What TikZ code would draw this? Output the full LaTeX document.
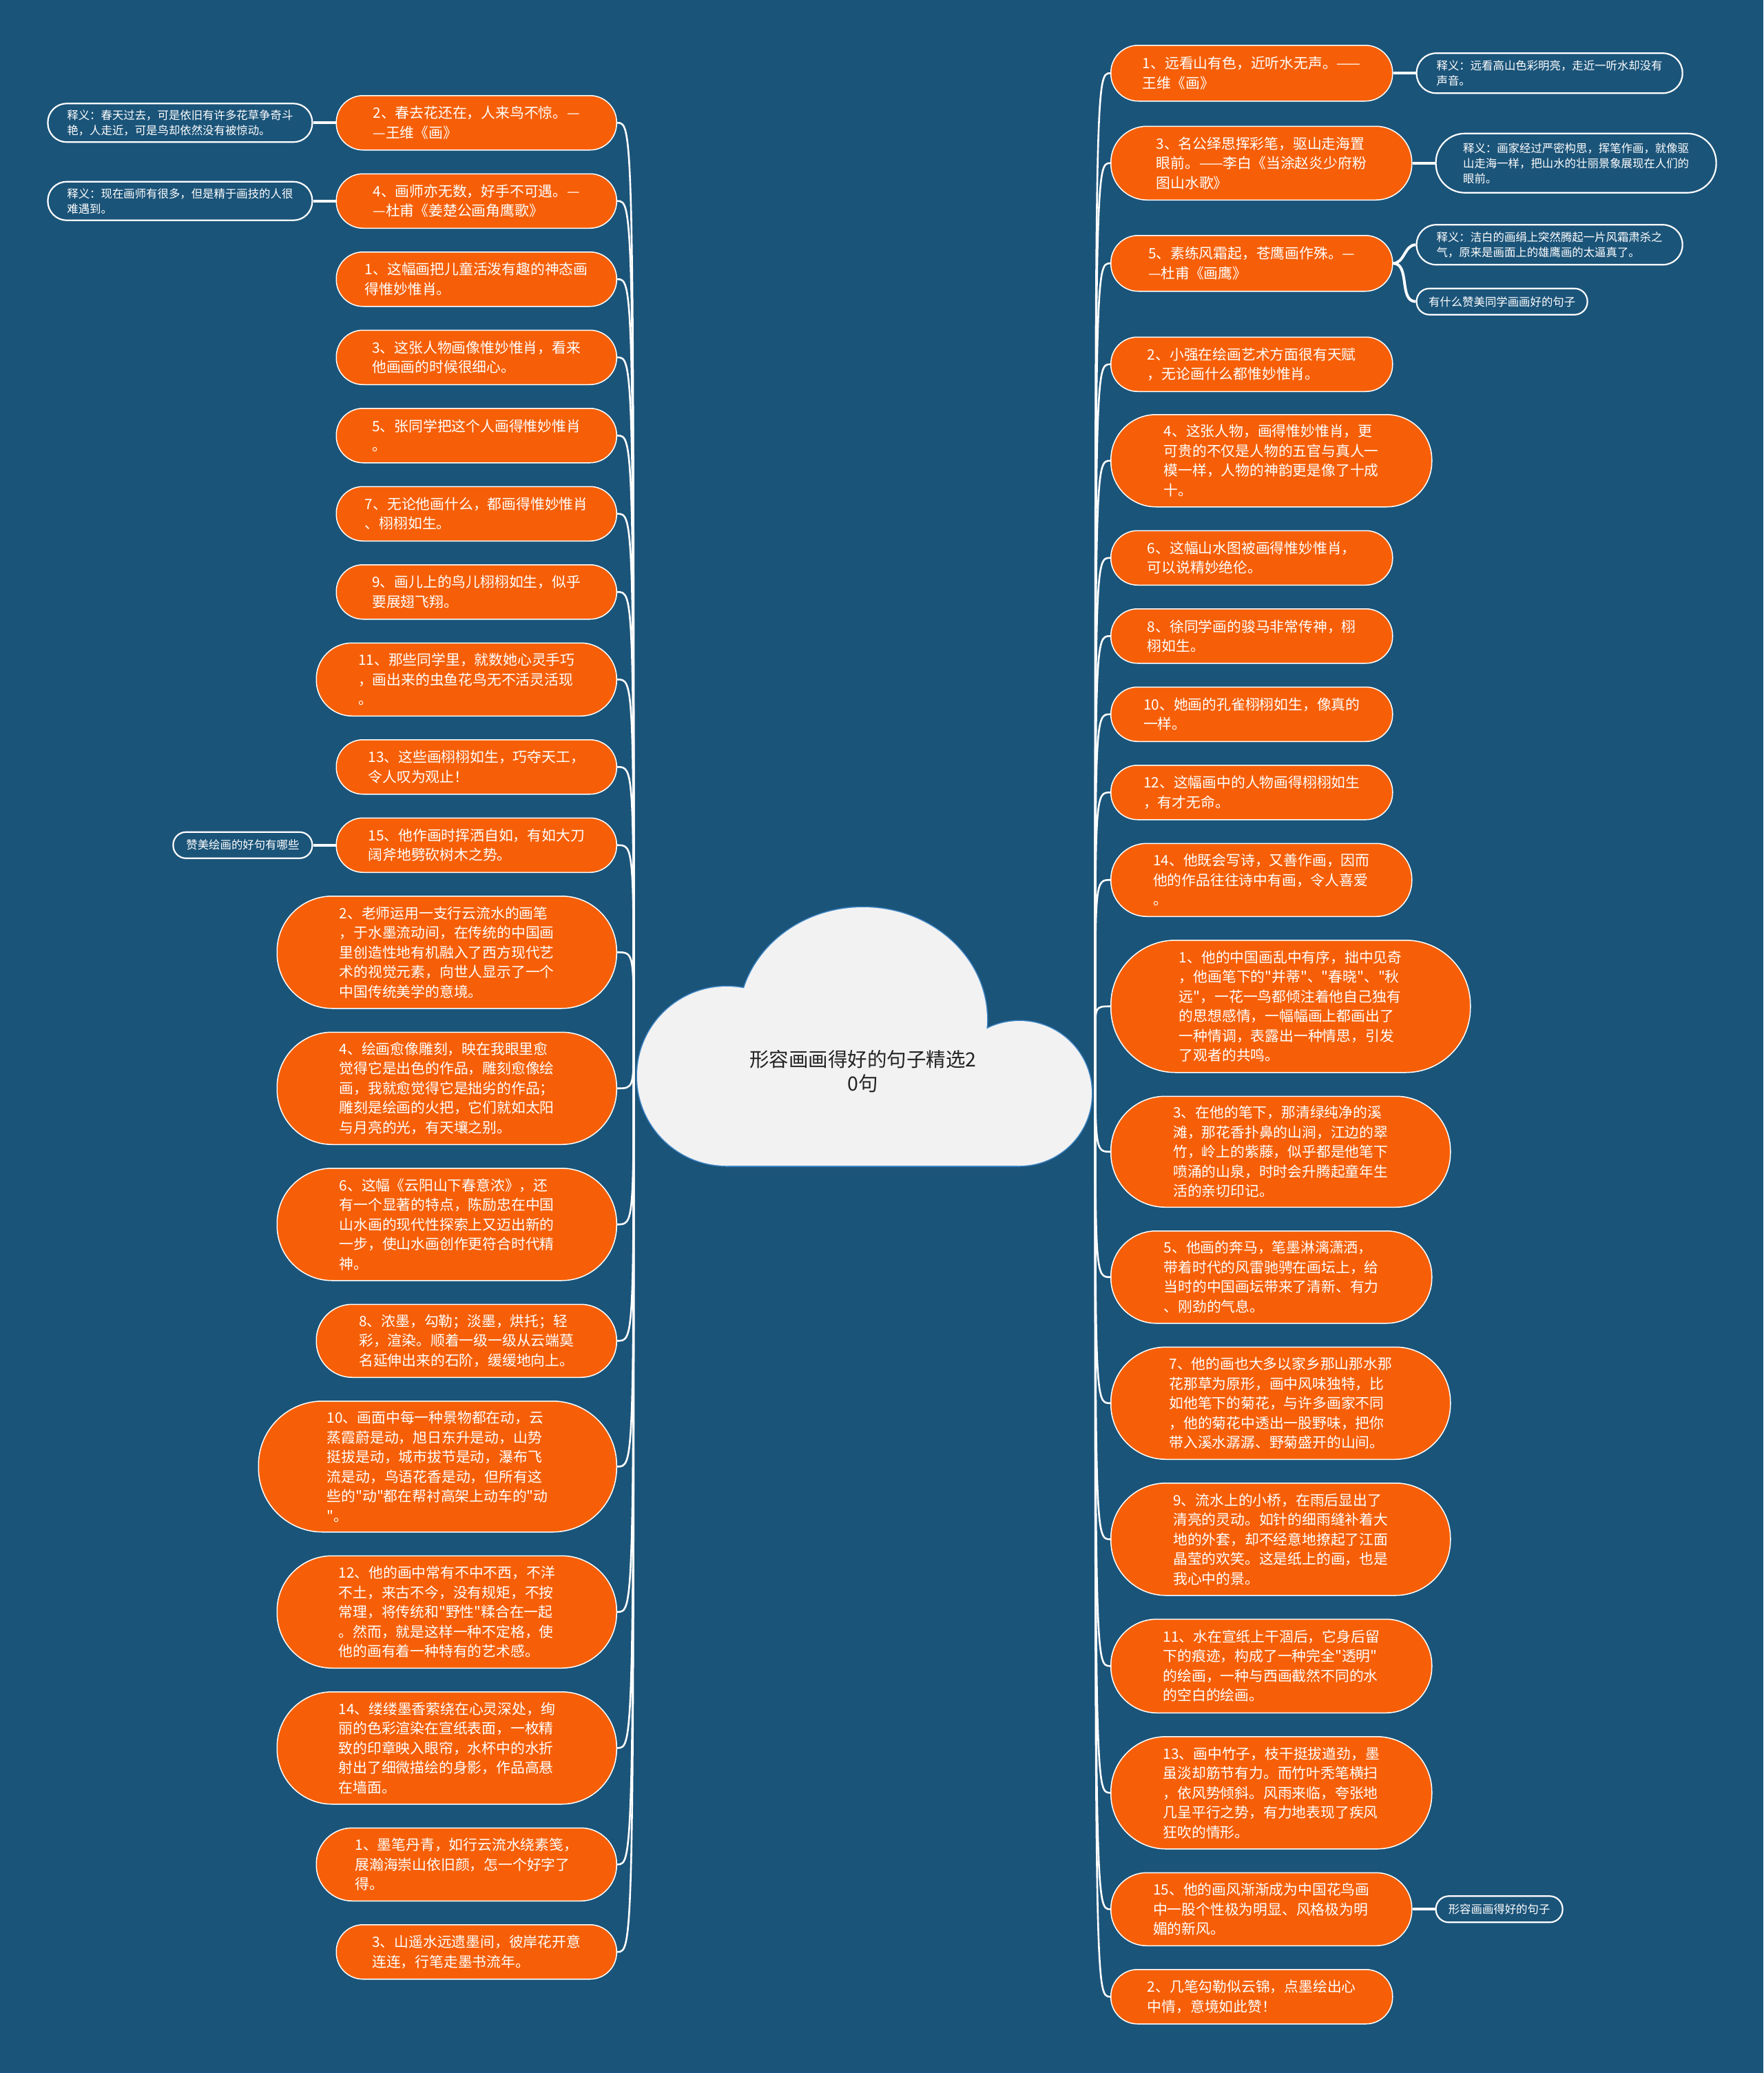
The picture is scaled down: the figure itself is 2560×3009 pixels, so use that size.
\documentclass[tikz,border=0pt]{standalone}
\usepackage{fontspec}
\newfontfamily\zhfont{Noto Sans CJK SC}
\usetikzlibrary{positioning}
\definecolor{cBg}{HTML}{1B5479}
\definecolor{cOrange}{HTML}{F65F07}
\definecolor{cCloud}{HTML}{F2F2F2}
\definecolor{cCloudEdge}{HTML}{3D85C6}
\definecolor{cInk}{HTML}{222222}
\newcommand{\pillfont}{\zhfont\fontsize{20.8}{28.5}\selectfont}
\newcommand{\notefont}{\zhfont\fontsize{16.4}{22}\selectfont}
\newcommand{\cloudfont}{\zhfont\fontsize{28.5}{35}\selectfont}

\begin{document}
\begin{tikzpicture}[
    x=1pt, y=-1pt,
    pill/.style 2 args={draw=white, line width=1.5pt, fill=cOrange,
                        text=white, font=\pillfont, align=left, inner sep=0pt,
                        minimum width=#1, minimum height=#2,
                        rounded corners=0.49*#2},
    note/.style 2 args={draw=white, line width=2.2pt, fill=cBg,
                        text=white, font=\notefont, align=left, inner sep=0pt,
                        minimum width=#1, minimum height=#2,
                        rounded corners=0.49*#2},
    rootlbl/.style={font=\cloudfont, text=cInk, align=center},
    cloudedge/.style={draw=cCloudEdge, line width=3pt, fill=cCloud},
    cloudfill/.style={fill=cCloud},
    branch/.style={draw=white, line width=2.6pt},
    link/.style={draw=white, line width=4pt},
  ]
  % ── BACKGROUND ──
  \fill[cBg] (0,0) rectangle (2560,3009);

  % ── CLOUD ──
  \foreach \op in {cloudedge, cloudfill} {
    \path[\op] (1055,1562) circle[radius=130];
    \path[\op] (1253,1480) ellipse[x radius=180, y radius=163];
    \path[\op] (1480,1587) circle[radius=105];
    \path[\op] (1055,1560) rectangle (1480,1692);
  }
  \node[rootlbl] (root) at (1253,1555) {形容画画得好的句子精选2\\0句};
  \coordinate (rootL) at (920,1503);
  \coordinate (rootR) at (1590,1503);

  % ── LEFT COLUMN ──
  \node[pill={407pt}{79pt}, anchor=north east] (L1) at (896,138)
    {2、春去花还在，人来鸟不惊。—\\—王维《画》};
  \node[pill={407pt}{79pt}, below=33pt of L1.south east, anchor=north east] (L2)
    {4、画师亦无数，好手不可遇。—\\—杜甫《姜楚公画角鹰歌》};
  \node[pill={407pt}{79pt}, below=33pt of L2.south east, anchor=north east] (L3)
    {1、这幅画把儿童活泼有趣的神态画\\得惟妙惟肖。};
  \node[pill={407pt}{79pt}, below=33pt of L3.south east, anchor=north east] (L4)
    {3、这张人物画像惟妙惟肖，看来\\他画画的时候很细心。};
  \node[pill={407pt}{79pt}, below=33pt of L4.south east, anchor=north east] (L5)
    {5、张同学把这个人画得惟妙惟肖\\。};
  \node[pill={407pt}{79pt}, below=33pt of L5.south east, anchor=north east] (L6)
    {7、无论他画什么，都画得惟妙惟肖\\、栩栩如生。};
  \node[pill={407pt}{79pt}, below=33pt of L6.south east, anchor=north east] (L7)
    {9、画儿上的鸟儿栩栩如生，似乎\\要展翅飞翔。};
  \node[pill={436pt}{106pt}, below=33pt of L7.south east, anchor=north east] (L8)
    {11、那些同学里，就数她心灵手巧\\，画出来的虫鱼花鸟无不活灵活现\\。};
  \node[pill={407pt}{79pt}, below=33pt of L8.south east, anchor=north east] (L9)
    {13、这些画栩栩如生，巧夺天工，\\令人叹为观止！};
  \node[pill={407pt}{79pt}, below=33pt of L9.south east, anchor=north east] (L10)
    {15、他作画时挥洒自如，有如大刀\\阔斧地劈砍树木之势。};
  \node[pill={493pt}{163pt}, below=33pt of L10.south east, anchor=north east] (L11)
    {2、老师运用一支行云流水的画笔\\，于水墨流动间，在传统的中国画\\里创造性地有机融入了西方现代艺\\术的视觉元素，向世人显示了一个\\中国传统美学的意境。};
  \node[pill={493pt}{163pt}, below=33pt of L11.south east, anchor=north east] (L12)
    {4、绘画愈像雕刻，映在我眼里愈\\觉得它是出色的作品，雕刻愈像绘\\画，我就愈觉得它是拙劣的作品；\\雕刻是绘画的火把，它们就如太阳\\与月亮的光，有天壤之别。};
  \node[pill={493pt}{163pt}, below=33pt of L12.south east, anchor=north east] (L13)
    {6、这幅《云阳山下春意浓》，还\\有一个显著的特点，陈励忠在中国\\山水画的现代性探索上又迈出新的\\一步，使山水画创作更符合时代精\\神。};
  \node[pill={436pt}{106pt}, below=33pt of L13.south east, anchor=north east] (L14)
    {8、浓墨，勾勒；淡墨，烘托；轻\\彩，渲染。顺着一级一级从云端莫\\名延伸出来的石阶，缓缓地向上。};
  \node[pill={520pt}{190pt}, below=33pt of L14.south east, anchor=north east] (L15)
    {10、画面中每一种景物都在动，云\\蒸霞蔚是动，旭日东升是动，山势\\挺拔是动，城市拔节是动，瀑布飞\\流是动，鸟语花香是动，但所有这\\些的"动"都在帮衬高架上动车的"动\\"。};
  \node[pill={493pt}{163pt}, below=33pt of L15.south east, anchor=north east] (L16)
    {12、他的画中常有不中不西，不洋\\不土，来古不今，没有规矩，不按\\常理，将传统和"野性"糅合在一起\\。然而，就是这样一种不定格，使\\他的画有着一种特有的艺术感。};
  \node[pill={493pt}{163pt}, below=33pt of L16.south east, anchor=north east] (L17)
    {14、缕缕墨香萦绕在心灵深处，绚\\丽的色彩渲染在宣纸表面，一枚精\\致的印章映入眼帘，水杯中的水折\\射出了细微描绘的身影，作品高悬\\在墙面。};
  \node[pill={436pt}{106pt}, below=33pt of L17.south east, anchor=north east] (L18)
    {1、墨笔丹青，如行云流水绕素笺，\\展瀚海崇山依旧颜，怎一个好字了\\得。};
  \node[pill={407pt}{79pt}, below=33pt of L18.south east, anchor=north east] (L19)
    {3、山遥水远遗墨间，彼岸花开意\\连连，行笔走墨书流年。};

  % ── LEFT NOTES ──
  \node[note={384pt}{56pt}, left=33pt of L1] (NL1)
    {释义：春天过去，可是依旧有许多花草争奇斗\\艳，人走近，可是鸟却依然没有被惊动。};
  \node[note={384pt}{56pt}, left=33pt of L2] (NL2)
    {释义：现在画师有很多，但是精于画技的人很\\难遇到。};
  \node[note={202pt}{38pt}, left=33pt of L10] (NL3) {赞美绘画的好句有哪些};

  % ── RIGHT COLUMN ──
  \node[pill={409pt}{81pt}, anchor=north west] (R1) at (1612,65)
    {1、远看山有色，近听水无声。——\\王维《画》};
  \node[pill={437pt}{107pt}, below=35pt of R1.south west, anchor=north west] (R2)
    {3、名公绎思挥彩笔，驱山走海置\\眼前。——李白《当涂赵炎少府粉\\图山水歌》};
  \node[pill={409pt}{81pt}, below=50pt of R2.south west, anchor=north west] (R3)
    {5、素练风霜起，苍鹰画作殊。—\\—杜甫《画鹰》};
  \node[pill={409pt}{79pt}, below=65pt of R3.south west, anchor=north west] (R4)
    {2、小强在绘画艺术方面很有天赋\\，无论画什么都惟妙惟肖。};
  \node[pill={466pt}{134pt}, below=32pt of R4.south west, anchor=north west] (R5)
    {4、这张人物，画得惟妙惟肖，更\\可贵的不仅是人物的五官与真人一\\模一样，人物的神韵更是像了十成\\十。};
  \node[pill={409pt}{79pt}, below=33pt of R5.south west, anchor=north west] (R6)
    {6、这幅山水图被画得惟妙惟肖，\\可以说精妙绝伦。};
  \node[pill={409pt}{79pt}, below=33pt of R6.south west, anchor=north west] (R7)
    {8、徐同学画的骏马非常传神，栩\\栩如生。};
  \node[pill={409pt}{79pt}, below=33pt of R7.south west, anchor=north west] (R8)
    {10、她画的孔雀栩栩如生，像真的\\一样。};
  \node[pill={409pt}{79pt}, below=33pt of R8.south west, anchor=north west] (R9)
    {12、这幅画中的人物画得栩栩如生\\，有才无命。};
  \node[pill={437pt}{106pt}, below=33pt of R9.south west, anchor=north west] (R10)
    {14、他既会写诗，又善作画，因而\\他的作品往往诗中有画，令人喜爱\\。};
  \node[pill={522pt}{192pt}, below=33pt of R10.south west, anchor=north west] (R11)
    {1、他的中国画乱中有序，拙中见奇\\，他画笔下的"并蒂"、"春晓"、"秋\\远"，一花一鸟都倾注着他自己独有\\的思想感情，一幅幅画上都画出了\\一种情调，表露出一种情思，引发\\了观者的共鸣。};
  \node[pill={493pt}{161pt}, below=33pt of R11.south west, anchor=north west] (R12)
    {3、在他的笔下，那清绿纯净的溪\\滩，那花香扑鼻的山涧，江边的翠\\竹，岭上的紫藤，似乎都是他笔下\\喷涌的山泉，时时会升腾起童年生\\活的亲切印记。};
  \node[pill={466pt}{134pt}, below=33pt of R12.south west, anchor=north west] (R13)
    {5、他画的奔马，笔墨淋漓潇洒，\\带着时代的风雷驰骋在画坛上，给\\当时的中国画坛带来了清新、有力\\、刚劲的气息。};
  \node[pill={493pt}{163pt}, below=33pt of R13.south west, anchor=north west] (R14)
    {7、他的画也大多以家乡那山那水那\\花那草为原形，画中风味独特，比\\如他笔下的菊花，与许多画家不同\\，他的菊花中透出一股野味，把你\\带入溪水潺潺、野菊盛开的山间。};
  \node[pill={493pt}{163pt}, below=33pt of R14.south west, anchor=north west] (R15)
    {9、流水上的小桥，在雨后显出了\\清亮的灵动。如针的细雨缝补着大\\地的外套，却不经意地撩起了江面\\晶莹的欢笑。这是纸上的画，也是\\我心中的景。};
  \node[pill={466pt}{136pt}, below=33pt of R15.south west, anchor=north west] (R16)
    {11、水在宣纸上干涸后，它身后留\\下的痕迹，构成了一种完全"透明"\\的绘画，一种与西画截然不同的水\\的空白的绘画。};
  \node[pill={466pt}{163pt}, below=33pt of R16.south west, anchor=north west] (R17)
    {13、画中竹子，枝干挺拔遒劲，墨\\虽淡却筋节有力。而竹叶秃笔横扫\\，依风势倾斜。风雨来临，夸张地\\几呈平行之势，有力地表现了疾风\\狂吹的情形。};
  \node[pill={437pt}{106pt}, below=33pt of R17.south west, anchor=north west] (R18)
    {15、他的画风渐渐成为中国花鸟画\\中一股个性极为明显、风格极为明\\媚的新风。};
  \node[pill={409pt}{79pt}, below=33pt of R18.south west, anchor=north west] (R19)
    {2、几笔勾勒似云锦，点墨绘出心\\中情，意境如此赞！};

  % ── RIGHT NOTES ──
  \node[note={386pt}{58pt}, right=33pt of R1] (NR1)
    {释义：远看高山色彩明亮，走近一听水却没有\\声音。};
  \node[note={407pt}{86pt}, right=33pt of R2] (NR2)
    {释义：画家经过严密构思，挥笔作画，就像驱\\山走海一样，把山水的壮丽景象展现在人们的\\眼前。};
  \node[note={386pt}{58pt}, right=33pt of R3, yshift=27pt] (NR3)
    {释义：洁白的画绢上突然腾起一片风霜肃杀之\\气，原来是画面上的雄鹰画的太逼真了。};
  \node[note={248pt}{38pt}, right=33pt of R3, yshift=-55.5pt] (NR4)
    {有什么赞美同学画画好的句子};
  \node[note={184pt}{38pt}, right=33pt of R18] (NR5) {形容画画得好的句子};

  % ── BRANCHES ──
  \foreach \i in {1,...,19} {
    \draw[branch] (rootL) .. controls (rootL |- L\i.east) .. (L\i.east);
    \draw[branch] (rootR) .. controls (rootR |- R\i.west) .. (R\i.west);
  }
  \draw[link] (NL1) -- (L1);
  \draw[link] (NL2) -- (L2);
  \draw[link] (NL3) -- (L10);
  \draw[link] (R1) -- (NR1);
  \draw[link] (R2) -- (NR2);
  \draw[link] (R3.east) to[out=0, in=180] (NR3.west);
  \draw[link] (R3.east) to[out=0, in=180] (NR4.west);
  \draw[link] (R18) -- (NR5);
\end{tikzpicture}
\end{document}
